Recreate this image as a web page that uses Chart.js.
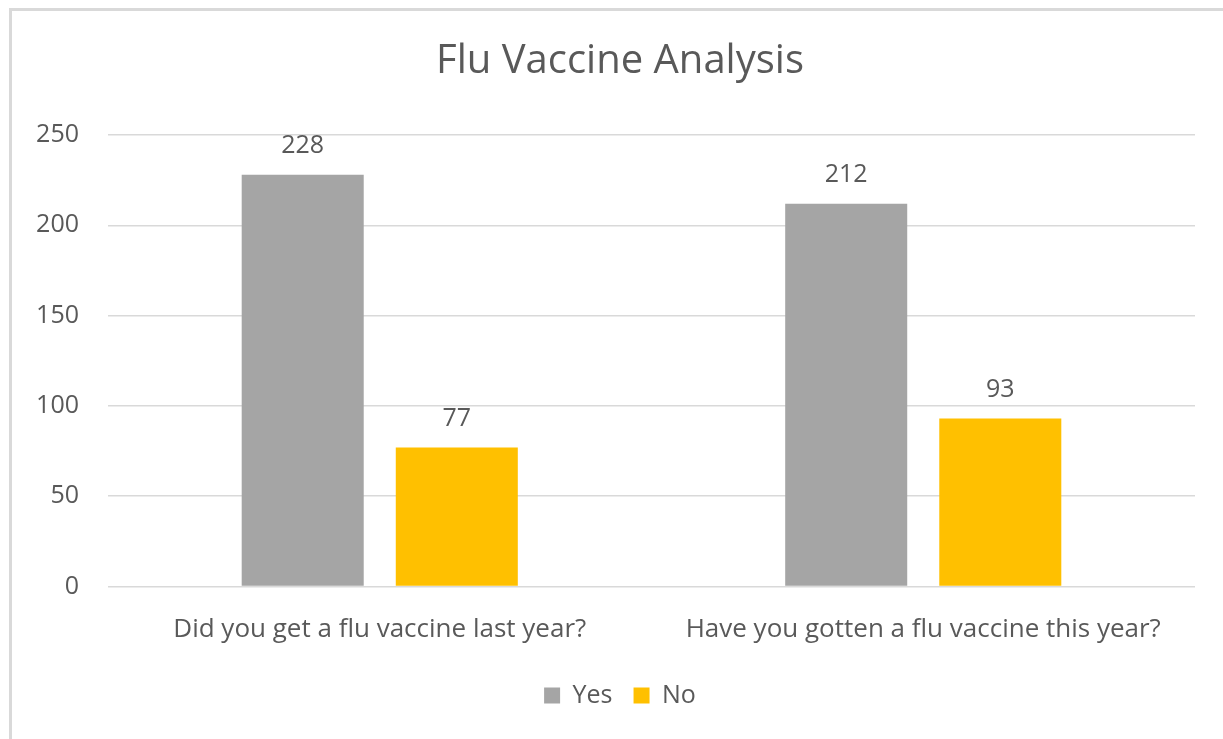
<!DOCTYPE html>
<html>
<head>
<meta charset="utf-8">
<title>Flu Vaccine Analysis</title>
<script src="https://cdn.jsdelivr.net/npm/chart.js@4/dist/chart.umd.min.js"></script>
<style>
  html, body { margin: 0; padding: 0; background: #ffffff; overflow: hidden; }
  #frame {
    position: absolute; left: 9px; top: 8px; width: 1400px; height: 900px;
    border-left: 3px solid #d9d9d9; border-top: 3px solid #d9d9d9;
  }
  #chart { position: absolute; left: 0; top: 0; }
</style>
</head>
<body>
<div id="frame"></div>
<canvas id="chart" width="1223" height="739"></canvas>
<script>
// Survey questions and answer counts
const categories = ["Did you get a flu vaccine last year?", "Have you gotten a flu vaccine this year?"];
const seriesNames = ["Yes", "No"];
const yesCounts = [228, 212];
const noCounts = [77, 93];
const yTicks = [0, 50, 100, 150, 200, 250];

const TEXT = "#595959";
const FONT = "'Open Sans', Lato, sans-serif";

// Writes each bar's value just above it
const valueLabels = {
  id: "valueLabels",
  afterDatasetsDraw(chart) {
    const ctx = chart.ctx;
    ctx.save();
    ctx.font = "25px " + FONT;
    ctx.fillStyle = TEXT;
    ctx.textAlign = "center";
    ctx.textBaseline = "middle";
    chart.data.datasets.forEach((ds, i) => {
      chart.getDatasetMeta(i).data.forEach((bar, j) => {
        ctx.fillText(String(ds.data[j]), bar.x, bar.y - 29);
      });
    });
    ctx.restore();
  }
};

// The value axis is narrow; let its tick labels run past its left edge
const unclipYLabels = {
  id: "unclipYLabels",
  beforeDraw(chart) {
    chart.scales.y._computeLabelArea = () => undefined;
  }
};

new Chart(document.getElementById("chart"), {
  type: "bar",
  data: {
    labels: categories,
    datasets: [
      { label: seriesNames[0], data: yesCounts, backgroundColor: "#a5a5a5" },
      { label: seriesNames[1], data: noCounts, backgroundColor: "#ffc000" }
    ]
  },
  options: {
    responsive: false,
    animation: false,
    devicePixelRatio: 1,
    categoryPercentage: 0.567,
    barPercentage: 0.792,
    layout: { padding: { left: 45, right: 28, top: 0, bottom: 21 } },
    plugins: {
      title: {
        display: true,
        text: "Flu Vaccine Analysis",
        color: TEXT,
        font: { family: FONT, size: 40, weight: "normal", lineHeight: 1.2 },
        padding: { top: 38, bottom: 49 }
      },
      legend: {
        position: "bottom",
        labels: {
          color: TEXT,
          font: { family: FONT, size: 25, lineHeight: 1.2 },
          boxWidth: 16,
          boxHeight: 16,
          padding: 21
        }
      },
      tooltip: { enabled: false }
    },
    scales: {
      x: {
        grid: { display: false },
        border: { display: false },
        ticks: {
          color: TEXT,
          font: { family: FONT, size: 26, lineHeight: 1.2 },
          padding: 19,
          maxRotation: 0
        },
        afterFit(scale) { scale.height = 75.5; }
      },
      y: {
        min: 0,
        max: 250,
        afterBuildTicks(scale) { scale.ticks = yTicks.map(v => ({ value: v })); },
        afterFit(scale) { scale.width = 63; },
        grid: { color: "#d9d9d9", lineWidth: 1.5, drawTicks: false },
        border: { display: false },
        ticks: {
          color: TEXT,
          font: { family: FONT, size: 25, lineHeight: 1.2 },
          padding: 29
        }
      }
    }
  },
  plugins: [valueLabels, unclipYLabels]
});
</script>
</body>
</html>
